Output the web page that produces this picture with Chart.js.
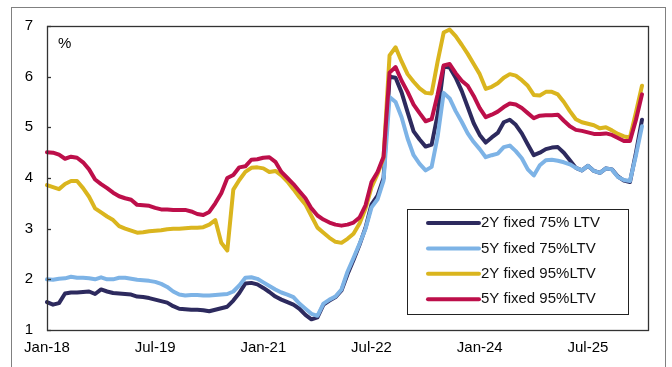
<!DOCTYPE html>
<html>
<head>
<meta charset="utf-8">
<script src="https://cdn.jsdelivr.net/npm/chart.js@4.4.1/dist/chart.umd.min.js"></script>
<style>
  html, body { margin: 0; padding: 0; background: #fff; }
  #wrap { width: 672px; height: 367px; }
</style>
</head>
<body>
<div id="wrap"><canvas id="rates" width="672" height="367"></canvas></div>
<script>
// monthly categories Jan-18 .. May-26 (last one only pads the axis)
const monthNames = ['Jan','Feb','Mar','Apr','May','Jun','Jul','Aug','Sep','Oct','Nov','Dec'];
const months = [];
for (let i = 0; i <= 100; i++) {
    months.push(monthNames[i % 12] + '-' + (18 + Math.floor(i / 12)));
}
const tickLabels = ['Jan-18', 'Jul-19', 'Jan-21', 'Jul-22', 'Jan-24', 'Jul-25'];

const seriesNames = ['2Y fixed 75% LTV', '5Y fixed 75%LTV', '2Y fixed 95%LTV', '5Y fixed 95%LTV'];

const fixed2y75 = [1.55,1.50,1.53,1.72,1.74,1.74,1.75,1.76,1.71,1.80,
    1.76,1.73,1.72,1.71,1.70,1.66,1.65,1.63,1.60,1.57,
    1.54,1.47,1.42,1.41,1.40,1.40,1.39,1.37,1.40,1.43,
    1.46,1.58,1.73,1.92,1.93,1.90,1.83,1.75,1.66,1.60,
    1.55,1.50,1.42,1.30,1.21,1.25,1.50,1.58,1.65,1.78,
    2.10,2.38,2.68,3.02,3.48,3.65,4.00,6.00,5.98,5.69,
    5.30,4.92,4.76,4.62,4.66,5.25,6.20,6.18,5.98,5.72,
    5.40,5.08,4.85,4.70,4.80,4.89,5.10,5.15,5.05,4.88,
    4.66,4.45,4.50,4.57,4.60,4.61,4.50,4.35,4.20,4.15,
    4.24,4.14,4.10,4.19,4.17,4.03,3.95,3.92,4.50,5.15];

const fixed5y75 = [2.00,1.99,2.01,2.02,2.05,2.03,2.03,2.02,2.00,2.04,
    2.00,2.00,2.03,2.03,2.01,1.99,1.98,1.97,1.95,1.91,
    1.85,1.76,1.70,1.68,1.69,1.69,1.68,1.68,1.69,1.70,
    1.71,1.76,1.88,2.03,2.04,2.01,1.94,1.87,1.80,1.74,
    1.70,1.65,1.52,1.42,1.32,1.28,1.52,1.60,1.66,1.80,
    2.15,2.42,2.70,3.00,3.42,3.58,3.95,5.60,5.50,5.20,
    4.78,4.45,4.28,4.15,4.22,4.82,5.68,5.57,5.32,5.11,
    4.88,4.71,4.57,4.41,4.45,4.48,4.61,4.64,4.53,4.39,
    4.17,4.05,4.25,4.35,4.36,4.34,4.31,4.27,4.20,4.15,
    4.24,4.14,4.10,4.19,4.17,4.02,3.96,3.94,4.45,5.02];

const fixed2y95 = [3.86,3.82,3.78,3.88,3.94,3.94,3.80,3.63,3.40,3.32,
    3.24,3.17,3.05,3.00,2.96,2.92,2.93,2.95,2.96,2.97,
    2.99,3.00,3.00,3.01,3.02,3.02,3.03,3.08,3.17,2.72,
    2.57,3.77,3.96,4.12,4.20,4.21,4.19,4.12,4.14,4.05,
    3.93,3.78,3.62,3.48,3.25,3.02,2.92,2.82,2.74,2.72,
    2.80,2.90,3.10,3.40,3.82,4.08,4.40,6.42,6.58,6.30,
    6.05,5.90,5.77,5.68,5.67,6.30,6.87,6.93,6.80,6.63,
    6.45,6.25,6.05,5.76,5.80,5.87,5.98,6.05,6.02,5.93,
    5.82,5.64,5.63,5.70,5.70,5.65,5.50,5.32,5.16,5.10,
    5.07,5.04,4.98,5.00,4.94,4.87,4.82,4.80,5.30,5.82];

const fixed5y95 = [4.51,4.50,4.46,4.38,4.42,4.40,4.31,4.17,3.97,3.88,
    3.80,3.71,3.64,3.60,3.57,3.47,3.46,3.45,3.41,3.38,
    3.38,3.37,3.37,3.37,3.34,3.29,3.27,3.33,3.50,3.70,
    4.00,4.06,4.21,4.23,4.36,4.37,4.40,4.41,4.32,4.12,
    4.00,3.88,3.74,3.60,3.40,3.26,3.18,3.12,3.08,3.06,
    3.08,3.12,3.22,3.46,3.92,4.12,4.42,6.08,6.19,5.92,
    5.70,5.45,5.28,5.12,5.16,5.65,6.22,6.25,6.07,5.92,
    5.82,5.62,5.38,5.20,5.25,5.31,5.40,5.47,5.45,5.38,
    5.28,5.18,5.23,5.24,5.24,5.25,5.13,5.02,4.95,4.93,
    4.90,4.87,4.87,4.88,4.85,4.79,4.73,4.73,5.15,5.65];

const FONT = '"Liberation Sans", Arial, sans-serif';

// frame, plot border, inward y ticks, "%" and the boxed legend
const decorations = {
    id: 'decorations',
    beforeDraw(chart) {
        const ctx = chart.ctx;
        ctx.save();
        ctx.fillStyle = '#fff';
        ctx.fillRect(0, 0, chart.width, chart.height);
        ctx.strokeStyle = '#808080';
        ctx.lineWidth = 1;
        ctx.strokeRect(11.5, 7.5, 654, 380);
        ctx.restore();
    },
    afterDraw(chart) {
        const ctx = chart.ctx;
        const a = chart.chartArea;
        const y = chart.scales.y;
        ctx.save();
        ctx.strokeStyle = '#333';
        ctx.lineWidth = 1.3;
        ctx.strokeRect(Math.round(a.left) + 0.5, Math.round(a.top) + 0.5,
            Math.round(a.right - a.left), Math.round(a.bottom - a.top));
        y.ticks.forEach(t => {
            const py = Math.round(y.getPixelForValue(t.value)) + 0.5;
            ctx.beginPath();
            ctx.moveTo(a.left, py);
            ctx.lineTo(a.left + 4, py);
            ctx.stroke();
        });

        ctx.fillStyle = '#000';
        ctx.font = '15px ' + FONT;
        ctx.textBaseline = 'middle';
        ctx.textAlign = 'left';
        ctx.fillText('%', 58, 44);

        // legend box
        const bx = 407, by = 209, bw = 221, bh = 105;
        ctx.fillStyle = '#fff';
        ctx.fillRect(bx, by, bw, bh);
        ctx.strokeStyle = '#222';
        ctx.lineWidth = 1;
        ctx.strokeRect(bx + 0.5, by + 0.5, bw, bh);
        chart.data.datasets.forEach((ds, i) => {
            const ry = 223 + i * 25.4;
            ctx.strokeStyle = ds.borderColor;
            ctx.lineWidth = 4;
            ctx.lineCap = 'round';
            ctx.beginPath();
            ctx.moveTo(428, ry);
            ctx.lineTo(479, ry);
            ctx.stroke();
            ctx.fillStyle = '#111';
            ctx.fillText(ds.label, 481, ry);
        });
        ctx.restore();
    }
};

function line(label, data, color, order) {
    return {
        label: label,
        data: data,
        borderColor: color,
        backgroundColor: color,
        borderWidth: 4,
        pointRadius: 0,
        tension: 0,
        fill: false,
        borderJoinStyle: 'round',
        borderCapStyle: 'round',
        order: order
    };
}

new Chart(document.getElementById('rates').getContext('2d'), {
    type: 'line',
    data: {
        labels: months,
        datasets: [
            line(seriesNames[0], fixed2y75, '#2d2a5e', 3),
            line(seriesNames[1], fixed5y75, '#7db3e6', 2),
            line(seriesNames[2], fixed2y95, '#dab51e', 1),
            line(seriesNames[3], fixed5y95, '#bd0f4a', 0)
        ]
    },
    options: {
        responsive: false,
        animation: false,
        layout: { padding: { left: 0, top: 26, right: 24, bottom: 0 } },
        plugins: {
            legend: { display: false },
            tooltip: { enabled: false }
        },
        scales: {
            x: {
                type: 'category',
                offset: false,
                grid: { display: false, drawTicks: false },
                border: { display: false },
                afterFit: s => { s.height = 37; },
                ticks: {
                    autoSkip: false,
                    maxRotation: 0,
                    padding: 9,
                    color: '#000',
                    font: { family: FONT, size: 15 },
                    callback: function (val, idx) {
                        return tickLabels.includes(months[idx]) ? months[idx] : null;
                    }
                }
            },
            y: {
                min: 1,
                max: 7,
                grid: { display: false, drawTicks: false },
                border: { display: false },
                afterFit: s => { s.width = 47; },
                ticks: {
                    stepSize: 1,
                    padding: 14,
                    color: '#000',
                    font: { family: FONT, size: 15 }
                }
            }
        }
    },
    plugins: [decorations]
});
</script>
</body>
</html>
